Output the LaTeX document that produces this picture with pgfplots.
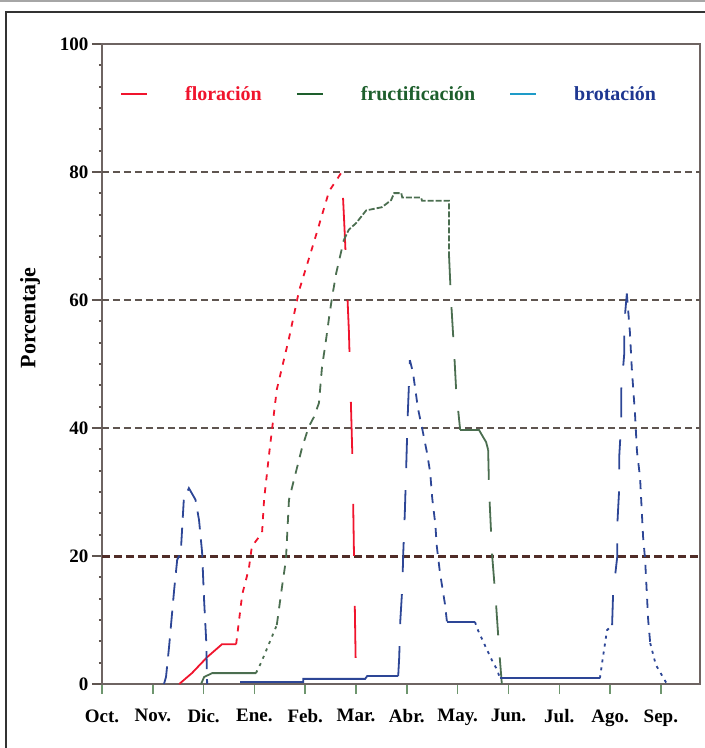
\documentclass[border=0pt]{standalone}
\usepackage{pgfplots}
\pgfplotsset{compat=1.18}
\usepackage{fontspec}
\setmainfont{Liberation Serif}

\definecolor{flor}{RGB}{240,20,45}
\definecolor{fruct}{RGB}{75,110,80}
\definecolor{fructleg}{RGB}{30,95,45}
\definecolor{brot}{RGB}{45,70,150}
\definecolor{brotleg}{RGB}{30,155,200}
\definecolor{brottxt}{RGB}{30,55,145}
\definecolor{gridc}{RGB}{95,85,80}
\definecolor{grid20}{RGB}{80,45,40}
\definecolor{axisc}{RGB}{110,100,98}
\definecolor{tickx}{RGB}{110,150,110}

\tikzset{
  seg/.style={line width=1.8pt},
  solidseg/.style={seg},
  dotseg/.style={seg, dash pattern=on 3pt off 5pt},
  dashseg/.style={seg, dash pattern=on 9pt off 8pt},
  longseg/.style={seg, dash pattern=on 30pt off 22pt},
}

\begin{document}
\begin{tikzpicture}
\path[use as bounding box] (0,0) rectangle (705pt,748pt);
% frame round the chart
\draw[gray!70, line width=1.5pt] (0,747pt) -- (705pt,747pt);
\draw[gray!40!black, line width=1.5pt] (6pt,-10pt) rectangle (712pt,736pt);

\begin{axis}[
  at={(102pt,64pt)}, anchor=south west,
  scale only axis, width=598pt, height=640pt,
  xmin=0, xmax=11.77, ymin=0, ymax=100,
  axis line style={axisc, line width=2.5pt},
  xtick={0,...,11},
  xticklabels={Oct.,Nov.,Dic.,Ene.,Feb.,Mar.,Abr.,May.,Jun.,Jul.,Ago.,Sep.},
  ytick={0,20,...,100},
  xtick pos=bottom, ytick pos=left,
  tick align=outside, major tick length=10pt,
  xtick style={tickx, line width=1.5pt},
  ytick style={gridc, line width=2pt},
  minor y tick num=5,
  minor tick length=3pt,
  minor tick style={black!70, line width=1pt},
  /pgf/number format/assume math mode=true,
  ticklabel style={font=\fontsize{19}{22}\selectfont\bfseries},
  xticklabel style={yshift=-12pt},
  extra y ticks={40,60,80},
  extra y tick labels={},
  extra y tick style={grid=major, major tick length=0pt,
    grid style={gridc, line width=1.8pt, dash pattern=on 7pt off 4pt}},
  ylabel={Porcentaje},
  ylabel style={at={(axis description cs:-0.1204,0.572)}, anchor=center,
    font=\fontsize{22}{26}\selectfont\bfseries},
  legend style={draw=none, fill=none, at={(axis description cs:0.025,0.922)},
    anchor=west, legend columns=3,
    font=\fontsize{20}{24}\selectfont\bfseries,
    /tikz/every odd column/.append style={column sep=35pt},
    /tikz/every even column/.append style={column sep=32pt}},
  legend image code/.code={\draw[#1] (0pt,0pt) -- (26pt,0pt);},
]
\addlegendimage{flor, line width=2pt}
\addlegendentry{\textcolor{flor}{floración}}
\addlegendimage{fructleg, line width=2pt}
\addlegendentry{\textcolor{fructleg}{fructificación}}
\addlegendimage{brotleg, line width=2pt}
\addlegendentry{\textcolor{brottxt}{brotación}}

% reference line at 20
\addplot[forget plot, grid20, line width=3pt, dash pattern=on 8pt off 4pt]
  coordinates {(0,20) (11.77,20)};

% floración
\addplot[forget plot, flor, solidseg] coordinates {
  (1.52,0) (1.77,1.7) (2.07,4.2) (2.36,6.2) (2.64,6.2)};
\addplot[forget plot, flor, seg, dash pattern=on 6pt off 7pt] coordinates {
  (2.64,6.2) (2.76,14) (2.89,18) (2.95,21.5) (3.15,23.6) (3.19,28.8)
  (3.29,36) (3.44,46) (3.68,54) (3.88,61.5) (4.17,69) (4.47,77) (4.72,80)};
\addplot[forget plot, flor, seg, dash pattern=on 52pt off 50pt, dash phase=76pt] coordinates {
  (4.72,80) (4.78,70) (4.86,55) (4.93,35) (5.0,0)};

% fructificación
\addplot[forget plot, fruct, solidseg] coordinates {
  (1.95,0) (2.01,1.1) (2.17,1.7) (3.03,1.7)};
\addplot[forget plot, fruct, dotseg] coordinates {
  (3.03,1.7) (3.13,3.3) (3.44,9.2)};
\addplot[forget plot, fruct, dashseg] coordinates {
  (3.44,9.2) (3.54,15) (3.62,19.4) (3.68,28.8) (3.94,37) (4.07,40.2)
  (4.17,41.7) (4.27,43.9) (4.33,49.5) (4.41,53.8) (4.47,57.3) (4.53,60.5)
  (4.61,64.2) (4.70,67.3) (4.76,69.4)};
\addplot[forget plot, fruct, seg, dash pattern=on 6pt off 2pt] coordinates {
  (4.76,69.4) (4.86,71) (5.0,72) (5.10,73) (5.20,74) (5.51,74.5) (5.69,75.6)
  (5.75,76.7) (5.89,76.7) (5.91,76) (6.28,76) (6.30,75.5) (6.83,75.5) (6.83,67)};
\addplot[forget plot, fruct, longseg] coordinates {
  (6.83,67) (6.87,60) (6.93,52) (6.97,46) (7.03,41.2) (7.05,39.7)};
\addplot[forget plot, fruct, solidseg] coordinates {
  (7.05,39.7) (7.42,39.7) (7.50,38.6) (7.56,37.8) (7.60,36.6)};
\addplot[forget plot, fruct, longseg] coordinates {
  (7.60,36.6) (7.62,30) (7.68,20) (7.76,12) (7.82,5) (7.87,0)};

% brotación
\addplot[forget plot, brot, seg, dash pattern=on 18pt off 10pt] coordinates {
  (1.22,0) (1.26,1.1) (1.32,5.8) (1.42,14.7) (1.48,19.4) (1.55,20.5) (1.61,28.8)
  (1.71,30.6) (1.84,28.8) (1.91,25.6) (1.97,20.6) (2.01,13) (2.05,6.9) (2.07,0)};
\addplot[forget plot, brot, solidseg] coordinates {
  (2.72,0.3) (3.96,0.3) (3.96,0.8) (5.18,0.8) (5.22,1.25) (5.83,1.25)};
\addplot[forget plot, brot, longseg] coordinates {
  (5.83,1.25) (5.85,4.2) (5.87,9.7) (5.91,15) (5.93,20.6) (5.96,26.7)
  (5.98,31.9) (6.00,37.3) (6.02,42.5) (6.06,50.6)};
\addplot[forget plot, brot, dashseg] coordinates {
  (6.06,50.6) (6.12,48.7) (6.22,43) (6.30,40) (6.40,36) (6.46,33) (6.50,29)
  (6.56,25) (6.59,21.5) (6.65,17.5) (6.71,14.5) (6.75,12.5) (6.79,9.7)};
\addplot[forget plot, brot, solidseg] coordinates {
  (6.79,9.7) (7.34,9.7)};
\addplot[forget plot, brot, dotseg] coordinates {
  (7.34,9.7) (7.40,8.4) (7.58,5.3) (7.70,3.3) (7.78,2.2) (7.83,0.9)};
\addplot[forget plot, brot, solidseg] coordinates {
  (7.83,0.9) (9.80,0.9)};
\addplot[forget plot, brot, dotseg] coordinates {
  (9.80,0.9) (9.86,4.2) (9.94,8.4) (10.04,9.2)};
\addplot[forget plot, brot, longseg] coordinates {
  (10.04,9.2) (10.06,14.2) (10.14,19.8) (10.14,24.5) (10.18,30.6) (10.18,35.5)
  (10.22,41) (10.22,46) (10.28,51.7) (10.28,56.4) (10.33,61)};
\addplot[forget plot, brot, dashseg] coordinates {
  (10.33,61) (10.39,55) (10.43,49) (10.49,42.3) (10.53,36.3) (10.59,32.3)
  (10.65,23) (10.69,19.4) (10.75,10) (10.79,6.4)};
\addplot[forget plot, brot, dotseg] coordinates {
  (10.79,6.4) (10.90,3) (11.12,0)};
\end{axis}
\end{tikzpicture}
\end{document}
